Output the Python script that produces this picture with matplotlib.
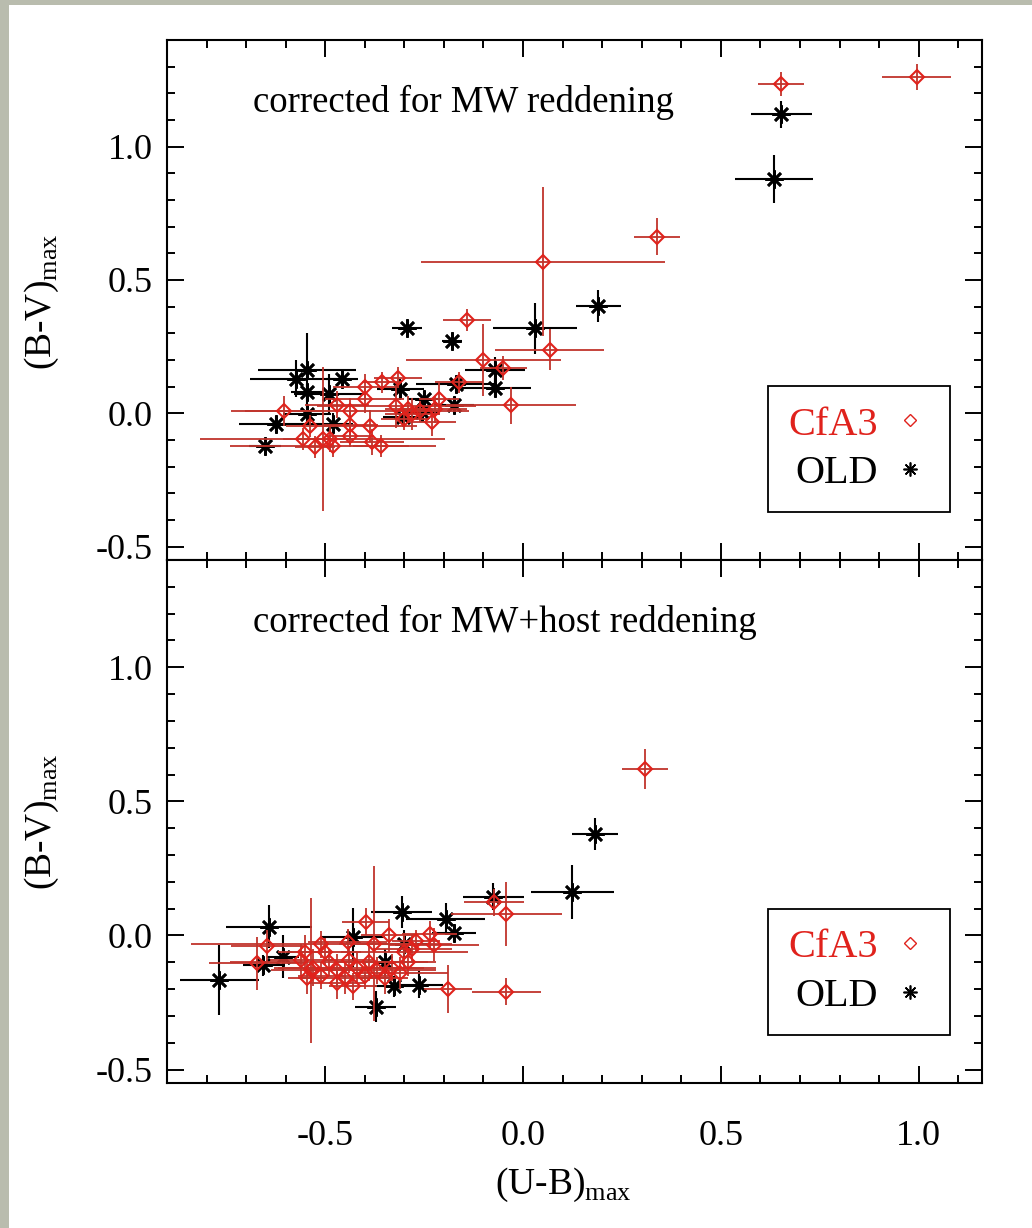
import matplotlib
matplotlib.use("Agg")
import matplotlib.pyplot as plt
from matplotlib.lines import Line2D
from matplotlib.patches import Rectangle
from matplotlib.ticker import MultipleLocator, FormatStrFormatter

plt.rcParams["font.family"] = ["Liberation Serif", "DejaVu Serif"]
plt.rcParams["mathtext.fontset"] = "custom"
plt.rcParams["mathtext.rm"] = "Liberation Serif"
plt.rcParams["axes.unicode_minus"] = False

# ---- top panel: corrected for MW reddening ----
top_cfa3_ub = [0.995, 0.653, 0.338, 0.05, 0.067, -0.141, -0.10, -0.05, -0.03, -0.162,
               -0.316, -0.356, -0.40, -0.212, -0.222, -0.23, -0.387, -0.382, -0.359, -0.32,
               -0.29, -0.28, -0.30, -0.26, -0.604, -0.437, -0.40, -0.437, -0.437, -0.538,
               -0.556, -0.526, -0.506, -0.488, -0.48, -0.47]
top_cfa3_bv = [1.262, 1.234, 0.662, 0.569, 0.238, 0.35, 0.20, 0.17, 0.03, 0.116,
               0.134, 0.116, 0.097, 0.052, 0.015, -0.034, -0.048, -0.108, -0.123, 0.026,
               0.015, -0.004, -0.022, 0.007, 0.008, 0.008, 0.052, -0.045, -0.085, -0.048,
               -0.097, -0.127, -0.097, -0.097, -0.123, 0.032]
top_cfa3_ub_err = [0.088, 0.058, 0.058, 0.308, 0.138, 0.061, 0.195, 0.06, 0.165, 0.06,
                   0.06, 0.05, 0.08, 0.05, 0.08, 0.06, 0.12, 0.08, 0.07, 0.2,
                   0.06, 0.07, 0.06, 0.05, 0.10, 0.30, 0.10, 0.07, 0.06, 0.06,
                   0.05, 0.05, 0.31, 0.06, 0.26, 0.08]
top_cfa3_bv_err = [0.048, 0.046, 0.069, 0.28, 0.077, 0.04, 0.136, 0.045, 0.07, 0.04,
                   0.04, 0.04, 0.05, 0.06, 0.05, 0.05, 0.06, 0.05, 0.04, 0.08,
                   0.05, 0.06, 0.04, 0.04, 0.056, 0.05, 0.05, 0.05, 0.04, 0.04,
                   0.04, 0.04, 0.27, 0.05, 0.04, 0.05]

top_old_ub = [0.653, 0.634, 0.19, 0.03, -0.293, -0.18, -0.07, -0.07, -0.17, -0.175,
              -0.31, -0.25, -0.255, -0.303, -0.652, -0.624, -0.574, -0.546, -0.546, -0.49,
              -0.457, -0.546, -0.48]
top_old_bv = [1.121, 0.878, 0.401, 0.319, 0.319, 0.27, 0.161, 0.096, 0.11, 0.03,
              0.09, 0.055, 0.005, -0.015, -0.123, -0.041, 0.13, 0.164, 0.079, 0.071,
              0.127, -0.004, -0.04]
top_old_ub_err = [0.078, 0.099, 0.057, 0.107, 0.037, 0.025, 0.076, 0.09, 0.10, 0.05,
                  0.06, 0.04, 0.04, 0.05, 0.04, 0.095, 0.115, 0.125, 0.04, 0.09,
                  0.04, 0.06, 0.05]
top_old_bv_err = [0.051, 0.089, 0.06, 0.095, 0.012, 0.012, 0.05, 0.035, 0.03, 0.03,
                  0.04, 0.03, 0.02, 0.03, 0.01, 0.03, 0.07, 0.138, 0.03, 0.075,
                  0.02, 0.03, 0.04]

# ---- bottom panel: corrected for MW+host reddening ----
bot_cfa3_ub = [0.308, -0.042, -0.19, -0.073, -0.042, -0.398, -0.236, -0.225, -0.34, -0.443,
               -0.30, -0.647, -0.673, -0.536, -0.376, -0.43, -0.47, -0.545, -0.51, -0.56,
               -0.53, -0.51, -0.49, -0.47, -0.45, -0.44, -0.42, -0.40, -0.39, -0.37,
               -0.35, -0.33, -0.31, -0.29, -0.50, -0.55, -0.28, -0.27]
bot_cfa3_bv = [0.62, -0.209, -0.20, 0.124, 0.081, 0.052, 0.005, -0.034, 0.0, -0.026,
               -0.06, -0.038, -0.104, -0.13, -0.03, -0.19, -0.176, -0.157, -0.033, -0.09,
               -0.12, -0.15, -0.10, -0.13, -0.16, -0.09, -0.12, -0.15, -0.10, -0.13,
               -0.16, -0.12, -0.14, -0.10, -0.06, -0.06, -0.05, -0.02]
bot_cfa3_ub_err = [0.059, 0.088, 0.06, 0.075, 0.14, 0.06, 0.07, 0.114, 0.07, 0.10,
                   0.16, 0.09, 0.12, 0.10, 0.09, 0.06, 0.07, 0.05, 0.33, 0.08,
                   0.10, 0.06, 0.25, 0.08, 0.12, 0.06, 0.20, 0.07, 0.08, 0.15,
                   0.06, 0.08, 0.12, 0.07, 0.09, 0.07, 0.10, 0.06]
bot_cfa3_bv_err = [0.074, 0.052, 0.09, 0.05, 0.12, 0.05, 0.05, 0.06, 0.06, 0.05,
                   0.07, 0.06, 0.10, 0.27, 0.29, 0.05, 0.06, 0.06, 0.05, 0.06,
                   0.07, 0.05, 0.05, 0.06, 0.06, 0.05, 0.06, 0.05, 0.07, 0.05,
                   0.06, 0.05, 0.06, 0.05, 0.05, 0.06, 0.05, 0.04]

bot_old_ub = [0.182, 0.125, -0.075, -0.195, -0.174, -0.307, -0.642, -0.768, -0.372, -0.263,
              -0.325, -0.43, -0.607, -0.657, -0.30, -0.35]
bot_old_bv = [0.379, 0.161, 0.145, 0.06, 0.009, 0.088, 0.033, -0.167, -0.265, -0.183,
              -0.19, -0.007, -0.08, -0.112, -0.03, -0.10]
bot_old_ub_err = [0.058, 0.104, 0.078, 0.10, 0.055, 0.078, 0.109, 0.10, 0.052, 0.06,
                  0.05, 0.08, 0.04, 0.05, 0.06, 0.05]
bot_old_bv_err = [0.06, 0.10, 0.05, 0.06, 0.03, 0.06, 0.08, 0.13, 0.057, 0.05,
                  0.04, 0.11, 0.08, 0.04, 0.05, 0.05]

red = "#e0221c"
red_err = "#c0342c"
star = (8, 2, 0)


def panel(ax, cub, cbv, cube, cbve, oub, obv, oube, obve, note):
    ax.errorbar(oub, obv, xerr=oube, yerr=obve, fmt="none", ecolor="black",
                elinewidth=1.5, capsize=0, zorder=2)
    ax.plot(oub, obv, ls="none", marker=star, ms=13, mew=1.9,
            color="black", zorder=3)
    ax.errorbar(cub, cbv, xerr=cube, yerr=cbve, fmt="none", ecolor=red_err,
                elinewidth=1.3, capsize=0, zorder=4)
    ax.plot(cub, cbv, ls="none", marker="D", ms=7.5, mfc="none", mec=red,
            mew=1.5, zorder=5)

    ax.set_xlim(-0.9, 1.16)
    ax.set_ylim(-0.55, 1.4)
    ax.xaxis.set_major_locator(MultipleLocator(0.5))
    ax.xaxis.set_minor_locator(MultipleLocator(0.1))
    ax.yaxis.set_major_locator(MultipleLocator(0.5))
    ax.yaxis.set_minor_locator(MultipleLocator(0.1))
    ax.xaxis.set_major_formatter(FormatStrFormatter("%.1f"))
    ax.yaxis.set_major_formatter(FormatStrFormatter("%.1f"))
    ax.tick_params(which="both", direction="in", top=True, right=True,
                   width=1.4, labelsize=26)
    ax.tick_params(which="major", length=12)
    ax.tick_params(which="minor", length=6)
    ax.tick_params(axis="y", pad=10)
    ax.tick_params(axis="x", pad=27)
    for s in ax.spines.values():
        s.set_linewidth(1.5)

    ax.text(0.105, 0.88, note, transform=ax.transAxes, fontsize=26.5,
            ha="left", va="center")

    h1 = Line2D([], [], ls="none", marker="D", ms=6.5, mfc="none", mec=red, mew=1.0)
    h2 = Line2D([], [], ls="none", marker=star, ms=10, mew=1.2, color="black")
    leg = ax.legend([h1, h2], ["CfA3", "OLD"], loc="lower right",
                    bbox_to_anchor=(0.961, 0.092), markerfirst=False, fontsize=29,
                    frameon=True, fancybox=False, edgecolor="black", framealpha=1,
                    handlelength=1.0, handletextpad=0.3, borderpad=0.5,
                    labelspacing=0.28, borderaxespad=0)
    leg.get_frame().set_linewidth(1.3)
    for t, c in zip(leg.get_texts(), [red, "black"]):
        t.set_color(c)


fig = plt.figure(figsize=(10.32, 12.28), dpi=100)
fig.patch.set_facecolor("#b9bcae")
fig.add_artist(Rectangle((9 / 1032, 0), 1, 1 - 5 / 1228, transform=fig.transFigure,
                         facecolor="white", edgecolor="none", zorder=-1))

ax1 = fig.add_axes([0.1618, 0.544, 0.7897, 0.4235])
ax2 = fig.add_axes([0.1618, 0.1181, 0.7897, 0.4259])

panel(ax1, top_cfa3_ub, top_cfa3_bv, top_cfa3_ub_err, top_cfa3_bv_err,
      top_old_ub, top_old_bv, top_old_ub_err, top_old_bv_err,
      "corrected for MW reddening")
panel(ax2, bot_cfa3_ub, bot_cfa3_bv, bot_cfa3_ub_err, bot_cfa3_bv_err,
      bot_old_ub, bot_old_bv, bot_old_ub_err, bot_old_bv_err,
      "corrected for MW+host reddening")
ax1.tick_params(axis="x", labelbottom=False)

ylab = r"(B-V)$_{\mathrm{max}}$"
fig.text(42 / 1032, 1 - 302 / 1228, ylab, rotation=90, ha="center", va="center", fontsize=27)
fig.text(42 / 1032, 1 - 822 / 1228, ylab, rotation=90, ha="center", va="center", fontsize=27)
fig.text(563 / 1032, 1 - 1185 / 1228, r"(U-B)$_{\mathrm{max}}$", ha="center", va="center",
         fontsize=27)

fig.savefig("out.png", dpi=100, facecolor=fig.get_facecolor())
